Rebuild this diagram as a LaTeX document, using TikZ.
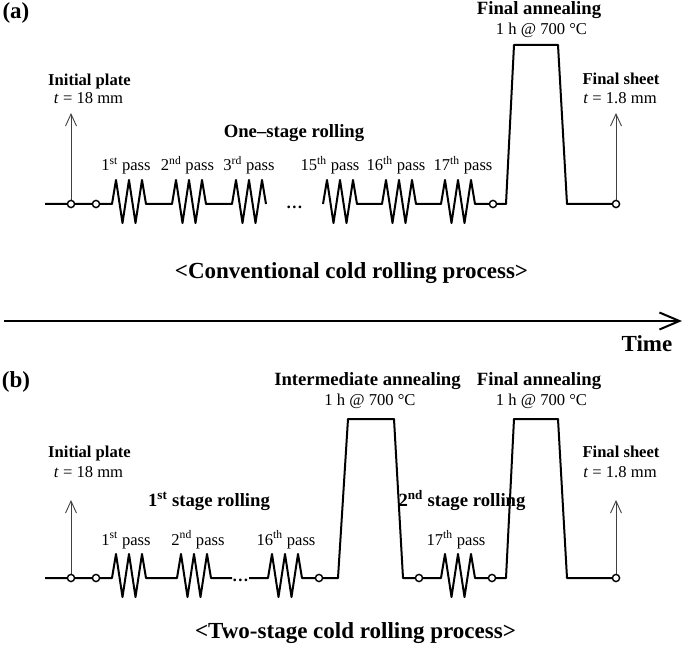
\documentclass[tikz,border=0pt]{standalone}
\usepackage{fontspec}
\setmainfont{Liberation Serif}
\usepackage{tikz}
\usetikzlibrary{arrows.meta}

% one rolling pass: three peaks, two troughs
\newcommand{\zig}{-- ++(4,-24) -- ++(6.5,43) -- ++(6.5,-43) -- ++(6.5,43) -- ++(6.5,-43) -- ++(4,24)}

\begin{document}
\begin{tikzpicture}[x=1pt, y=-1pt,
  profile/.style={line width=2pt, line join=round},
  thinarrow/.style={line width=0.9pt, black!75, -{Straight Barb[length=12pt,width=11pt]}},
  station/.style={draw, line width=1.4pt, fill=white},
  txt/.style={font=\fontsize{16.6}{18}\selectfont, anchor=base, inner sep=0pt},
  bold/.style={font=\fontsize{16.6}{18}\selectfont\bfseries, anchor=base, inner sep=0pt},
  head/.style={font=\fontsize{18.7}{20}\selectfont\bfseries, anchor=base, inner sep=0pt},
  title/.style={font=\fontsize{23}{25}\selectfont\bfseries, anchor=base, inner sep=0pt}]

  \useasboundingbox (0,0) rectangle (685,647);

  % (a) conventional: one rolling stage, then final annealing
  \node[title] (a-tag) at (16,19) {(a)};
  \coordinate (a-start) at (71,204);
  \coordinate (a-start-top) at (71,113);
  \coordinate (a-end) at (616,204);
  \coordinate (a-end-top) at (616,113);
  \draw[thinarrow] (a-start) -- (a-start-top);
  \draw[thinarrow] (a-end) -- (a-end-top);
  \draw[profile] (45,204) -- (112,204) \zig -- (172,204) \zig -- (232,204) \zig;
  \draw[profile] (323,204) \zig -- (382,204) \zig -- (441,204) \zig
    -- (506,204) -- (514,45) -- (558,45) -- (567,204) -- (a-end);
  \foreach \x in {71,96,493,616}
    \draw[station] (\x,204) circle (3.6pt);
  \node[bold] (a-dots) at (294.5,208.5) {…};

  \node[bold] (a-init) at (89.5,85.7) {Initial plate};
  \node[txt] (a-init-t) at (88.5,104) {\textit{t} = 18 mm};
  \node[head] (a-stage) at (294,138) {One–stage rolling};
  \foreach \x/\n/\s in {126/1/st, 187.5/2/nd, 249/3/rd, 330/15/th, 396/16/th, 463/17/th}
    \node[txt] (a-pass\n) at (\x,171) {\n\textsuperscript{\s} pass};
  \node[head] (a-anneal) at (539,15) {Final annealing};
  \node[txt] (a-anneal-t) at (541.5,35) {1 h @ 700 °C};
  \node[bold] (a-final) at (621,85) {Final sheet};
  \node[txt] (a-final-t) at (620,104) {\textit{t} = 1.8 mm};
  \node[title] (a-title) at (351.5,278) {<Conventional cold rolling process>};

  % time axis
  \coordinate (time-start) at (4,321);
  \coordinate (time-end) at (682,321);
  \draw[line width=2pt, -{Straight Barb[length=20pt,width=17pt]}] (time-start) -- (time-end);
  \node[title] (time) at (647,351) {Time};

  % (b) two stages with intermediate annealing
  \node[title] (b-tag) at (16,387) {(b)};
  \coordinate (b-start) at (71,578);
  \coordinate (b-start-top) at (71,500);
  \coordinate (b-end) at (616,578);
  \coordinate (b-end-top) at (616,500);
  \draw[thinarrow] (b-start) -- (b-start-top);
  \draw[thinarrow] (b-end) -- (b-end-top);
  \draw[profile] (45,578) -- (112,578) \zig -- (177,578) \zig -- (232,578);
  \draw[profile] (249,578) -- (268,578) \zig -- (338,578) -- (348,419) -- (394,419) -- (403,578)
    -- (441,578) \zig -- (506,578) -- (514,419) -- (558,419) -- (567,578) -- (b-end);
  \foreach \x in {71,96,319,419,492,616}
    \draw[station] (\x,578) circle (3.6pt);
  \node[bold] (b-dots) at (240.5,581.5) {…};

  \node[bold] (b-init) at (89.5,457) {Initial plate};
  \node[txt] (b-init-t) at (88.5,477) {\textit{t} = 18 mm};
  \node[head] (b-stage1) at (209,506) {1\textsuperscript{st} stage rolling};
  \node[head] (b-stage2) at (462,506) {2\textsuperscript{nd} stage rolling};
  \foreach \x/\n/\s in {126/1/st, 198/2/nd, 286/16/th, 456/17/th}
    \node[txt] (b-pass\n) at (\x,545) {\n\textsuperscript{\s} pass};
  \node[head] (b-inter) at (367.5,385) {Intermediate annealing};
  \node[txt] (b-inter-t) at (370,405) {1 h @ 700 °C};
  \node[head] (b-anneal) at (539,385) {Final annealing};
  \node[txt] (b-anneal-t) at (541.5,405) {1 h @ 700 °C};
  \node[bold] (b-final) at (621,457) {Final sheet};
  \node[txt] (b-final-t) at (620,477) {\textit{t} = 1.8 mm};
  \node[title] (b-title) at (355.5,638) {<Two-stage cold rolling process>};
\end{tikzpicture}
\end{document}
